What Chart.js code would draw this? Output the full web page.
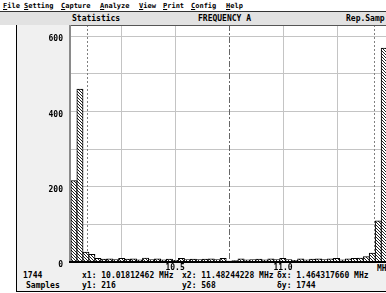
<!DOCTYPE html>
<html>
<head>
<meta charset="utf-8">
<script src="https://cdn.jsdelivr.net/npm/chart.js@4.4.0/dist/chart.umd.min.js"></script>
<style>
  html, body { margin: 0; padding: 0; width: 386px; height: 293px; overflow: hidden; background: #fff; }
  body { position: relative; font: bold 8px "DejaVu Sans Mono", monospace; color: #000; }
  .abs { position: absolute; white-space: pre; line-height: 10px; }
  .menu { font-size: 7px; }
  #menu { left: 0; top: 0; width: 386px; height: 11px; border-bottom: 1px solid #333; }
  #hdr { left: 0; top: 12px; width: 400px; height: 13px; background: #e2e2e2; }
  #leftPanel { left: 16px; top: 25px; width: 54px; height: 266px; background: #f0f0f0; border-left: 1px solid #000; }
  #bottomPanel { left: 16px; top: 263px; width: 400px; height: 28px; background: #f0f0f0; border-left: 1px solid #000; border-bottom: 1px solid #000; }
  #chart { position: absolute; left: 17px; top: 22px; }
  u { text-decoration: underline; }
</style>
</head>
<body>
<div class="abs" id="menu"></div>
<div class="abs" id="hdr"></div>
<div class="abs" id="leftPanel"></div>
<div class="abs" id="bottomPanel"></div>
<div id="texts"></div>
<canvas id="chart" width="387" height="252"></canvas>
<script>
// histogram data (FREQUENCY A statistics)
const binStart = 10.01812462;   // x1, MHz
const binEnd = 11.48244228;     // x2, MHz
const binCounts = [216, 459, 26, 20, 9, 7, 8, 6, 9, 7, 8, 5, 10, 6, 8, 5, 7, 4, 9, 6,
  7, 6, 7, 8, 6, 9, 2, 3, 8, 5, 6, 7, 5, 8, 6, 9, 6, 4, 8, 5,
  7, 8, 6, 8, 9, 5, 8, 9, 10, 14, 23, 109, 568];

const xMin = binStart;
const xMax = 11.56;
const xGridValues = [10.25, 10.5, 10.75, 11.0, 11.25, 11.5];
const xTickLabels = ['', '10.5', '', '11.0', '', ''];
const centerFreq = 10.75;
const cursorValues = [10.093, 11.421];

const yMax = 630;
const yGridValues = [0, 100, 200, 300, 400, 500, 600];
const yLabelValues = [0, 200, 400, 600];

const menuItems = ['File', 'Setting', 'Capture', 'Analyze', 'View', 'Print', 'Config', 'Help'];
const menuX = [3, 24, 61, 100, 139, 163, 191, 226];

// texts around the plot
const texts = document.getElementById('texts');
function addText(str, left, top, extra, cls) {
  const d = document.createElement('div');
  d.className = 'abs' + (cls ? ' ' + cls : '');
  d.style.left = left + 'px';
  d.style.top = top + 'px';
  d.innerHTML = str;
  if (extra) Object.assign(d.style, extra);
  texts.appendChild(d);
}
menuItems.forEach((m, i) => addText('<u>' + m[0] + '</u>' + m.slice(1), menuX[i], 1, null, 'menu'));
addText('Statistics', 72, 14);
addText('FREQUENCY A', 198, 14);
addText('Rep.Samp', 346, 14);

const total = binCounts.reduce((a, b) => a + b, 0);
const fmt = v => v.toFixed(8);
addText(String(total), 23, 271, { width: 40, textAlign: 'center' });
addText('Samples', 26, 281, { width: 40, textAlign: 'center' });
addText('x1: ' + fmt(binStart) + ' MHz', 82, 271);
addText('y1: ' + binCounts[0], 82, 281);
addText('x2: ' + fmt(binEnd) + ' MHz', 182, 271);
addText('y2: ' + binCounts[binCounts.length - 1], 182, 281);
addText('\u03b4x: ' + (binEnd - binStart).toFixed(9) + ' MHz', 277, 271);
addText('\u03b4y: ' + total, 277, 281);
addText('MHz', 377, 264);

// bars sit at the middle of each bin
const binWidth = (binEnd - binStart) / binCounts.length;
const barData = binCounts.map((c, i) => ({ x: binStart + (i + 0.5) * binWidth, y: c }));

const canvas = document.getElementById('chart');
const ctx = canvas.getContext('2d');

function makeHatch() {
  const c = document.createElement('canvas');
  c.width = 3; c.height = 3;
  const g = c.getContext('2d');
  g.fillStyle = '#fff';
  g.fillRect(0, 0, 3, 3);
  g.fillStyle = '#222';
  for (let i = 0; i < 3; i++) g.fillRect(i, i, 1, 1);
  return ctx.createPattern(c, 'repeat');
}

const framePlugin = {
  id: 'frame',
  beforeDatasetsDraw(chart) {
    const { ctx, chartArea: a, scales: { x } } = chart;
    ctx.save();
    ctx.lineWidth = 1;
    ctx.strokeStyle = '#808080';
    ctx.setLineDash([2, 2]);
    cursorValues.forEach(v => {
      const px = Math.round(x.getPixelForValue(v)) + 0.5;
      ctx.beginPath(); ctx.moveTo(px, a.top); ctx.lineTo(px, a.bottom); ctx.stroke();
    });
    ctx.strokeStyle = '#666';
    ctx.setLineDash([6, 2, 2, 2]);
    const cx = Math.round(x.getPixelForValue(centerFreq)) + 0.5;
    ctx.beginPath(); ctx.moveTo(cx, a.top); ctx.lineTo(cx, a.bottom); ctx.stroke();
    ctx.restore();
  },
  afterDatasetsDraw(chart) {
    const { ctx, chartArea: a } = chart;
    ctx.save();
    ctx.fillStyle = '#555';
    ctx.fillRect(a.left, a.top, a.right - a.left, 1);
    ctx.fillStyle = '#8a8a8a';
    ctx.fillRect(a.left - 2, a.top, 2, a.bottom - a.top + 1);
    ctx.fillStyle = '#000';
    ctx.fillRect(a.left - 2, a.bottom - 1, a.right - a.left + 2, 2);
    ctx.restore();
  }
};

new Chart(canvas, {
  type: 'bar',
  data: {
    datasets: [{
      data: barData,
      backgroundColor: makeHatch(),
      borderColor: '#000',
      borderWidth: 1,
      borderSkipped: 'bottom',
      inflateAmount: 0.5,
      barPercentage: 1,
      categoryPercentage: 1
    }]
  },
  options: {
    responsive: false,
    animation: false,
    devicePixelRatio: 1,
    layout: { padding: { top: 3, left: 0, right: 0, bottom: 0 } },
    plugins: { legend: { display: false }, tooltip: { enabled: false } },
    scales: {
      x: {
        type: 'linear',
        offset: false,
        min: xMin,
        max: xMax,
        afterBuildTicks: s => { s.ticks = xGridValues.map(v => ({ value: v })); },
        afterFit: s => { s.height = 12; s.paddingLeft = 0; s.paddingRight = 0; },
        border: { display: false },
        grid: {
          offset: false,
          drawTicks: false,
          color: c => (c.tick && c.tick.value === centerFreq) ? 'rgba(0,0,0,0)' : '#c4c4c4'
        },
        ticks: {
          autoSkip: false,
          maxRotation: 0,
          padding: 1,
          color: '#000',
          font: { family: 'DejaVu Sans Mono', size: 8, weight: 'bold' },
          callback: (v, i) => xTickLabels[i]
        }
      },
      y: {
        min: 0,
        max: yMax,
        afterBuildTicks: s => { s.ticks = yGridValues.map(v => ({ value: v })); },
        afterFit: s => { s.width = 54; s.paddingTop = 0; s.paddingBottom = 0; },
        border: { display: false },
        grid: { drawTicks: false, color: '#c4c4c4' },
        ticks: {
          padding: 8,
          labelOffset: 3,
          color: '#000',
          font: { family: 'DejaVu Sans Mono', size: 8, weight: 'bold' },
          callback: v => yLabelValues.includes(v) ? String(v) : ''
        }
      }
    }
  },
  plugins: [framePlugin]
});
</script>
</body>
</html>
